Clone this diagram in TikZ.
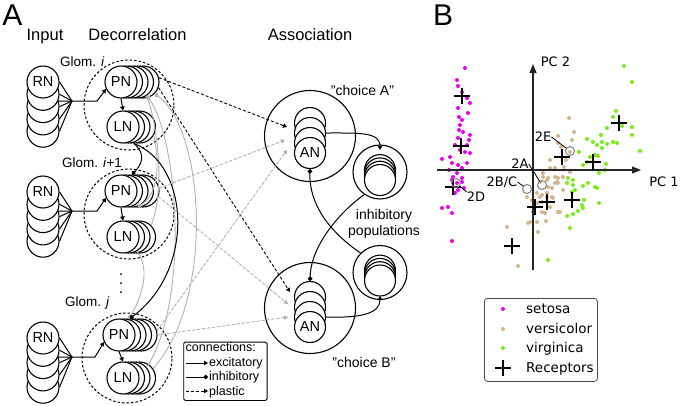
\documentclass[tikz,border=0pt]{standalone}
\usepackage{fontspec}
\setmainfont{Liberation Sans}
\newfontfamily\djv{DejaVu Sans}
\usetikzlibrary{arrows.meta}
\definecolor{lgray}{RGB}{178,178,178}
\definecolor{setc}{RGB}{235,0,235}
\definecolor{verc}{RGB}{212,180,140}
\definecolor{virc}{RGB}{120,238,20}
\definecolor{mgray}{RGB}{128,128,128}
\tikzset{
 cell/.style={circle,draw,fill=white,inner sep=0pt,minimum size=32pt,line width=1.1pt,font=\fontsize{14.5}{16}\selectfont},
 ancell/.style={cell,minimum size=31pt},
 incell/.style={cell,minimum size=31pt},
 glomc/.style={circle,draw,dash pattern=on 2.5pt off 2pt,line width=1pt,minimum size=90pt,inner sep=0pt},
 bigc/.style={circle,draw,fill=white,line width=1.1pt,minimum size=91pt,inner sep=0pt},
 popc/.style={circle,draw,fill=white,line width=1.1pt,minimum size=54pt,inner sep=0pt},
 exc/.style={line width=1pt,-{Triangle[length=4pt,width=4.5pt]}},
 inh/.style={line width=1pt,-{Circle[length=4.5pt]}},
 ginh/.style={line width=0.9pt,draw=lgray,-{Circle[length=4.5pt]}},
 pla/.style={line width=0.9pt,dash pattern=on 3pt off 2pt,-{Triangle[length=4pt,width=4.5pt]}},
 gpla/.style={pla,draw=lgray,fill=lgray},
 hdr/.style={font=\fontsize{16.5}{18}\selectfont,anchor=base,inner sep=0pt},
 panl/.style={font=\fontsize{30}{32}\selectfont,anchor=base,inner sep=0pt},
 glab/.style={font=\fontsize{13.5}{15}\selectfont,anchor=base west,inner sep=0pt},
 lab/.style={font=\fontsize{14}{15}\selectfont,anchor=base,inner sep=0pt},
 lgt/.style={font=\fontsize{12.5}{14}\selectfont,anchor=base west,inner sep=0pt},
 bt/.style={font=\djv\fontsize{13}{15}\selectfont,inner sep=0pt},
 blg/.style={font=\djv\fontsize{13.5}{15}\selectfont,anchor=base west,inner sep=0pt},
 rcp/.style={line width=1.2pt},
 fan/.style={line width=1pt},
}
\newcommand\mkstack[7][cell]{\foreach \k in {#5,...,1}{\node[#1] (#2-\k) at ({#3+(#6)*\k},{#4+(#7)*\k}) {};}}
\newcommand\sq{\char34}
\begin{document}
\begin{tikzpicture}[x=1pt,y=-1pt]
\useasboundingbox (0,0) rectangle (680,405);
% ---------- panel A headers
\node[panl] (lA) at (12.5,25) {A};
\node[hdr] (hIn) at (45,40) {Input};
\node[hdr] (hDe) at (137.5,40) {Decorrelation};
\node[hdr] (hAs) at (310,40) {Association};
% ---------- glomeruli
\node[glomc] (gA) at (129,105) {};
\node[glomc] (gB) at (129,214) {};
\node[glomc] (gC) at (127,358) {};
\node[glab] (tgA) at (60,66) {Glom. \textit{i}};
\node[glab] (tgB) at (62,167) {Glom. \textit{i}+1};
\node[glab] (tgC) at (65,306) {Glom. \textit{j}};
% RN stacks
\mkstack{rnA}{43}{82}{4}{0}{12.3}
\node[cell] (rnA-0) at (43,82) {RN};
\mkstack{rnB}{43}{192}{4}{0}{12.3}
\node[cell] (rnB-0) at (43,192) {RN};
\mkstack{rnC}{43}{338}{4}{0}{12.3}
\node[cell] (rnC-0) at (43,338) {RN};
% PN stacks
\mkstack{pnA}{121}{82}{4}{5.5}{0}
\node[cell] (pnA-0) at (121,82) {PN};
\mkstack{pnB}{121}{191}{4}{5.5}{0}
\node[cell] (pnB-0) at (121,191) {PN};
\mkstack{pnC}{119}{335}{4}{5.5}{0}
\node[cell] (pnC-0) at (119,335) {PN};
% LN stacks
\mkstack{lnA}{123}{127}{3}{5.5}{0}
\node[cell] (lnA-0) at (123,127) {LN};
\mkstack{lnB}{123}{237}{3}{5.5}{0}
\node[cell] (lnB-0) at (123,237) {LN};
\mkstack{lnC}{123}{378}{3}{5.5}{0}
\node[cell] (lnC-0) at (123,378) {LN};
% vertical dots
\fill (121,274) circle (1pt) (121,283) circle (1pt) (121,292) circle (1pt);
% ---------- association
\node[bigc] (chA) at (310,136) {};
\node[bigc] (chB) at (310,308) {};
\mkstack[ancell]{anA}{310}{153}{3}{0}{-10}
\node[ancell] (anA-0) at (310,153) {AN};
\mkstack[ancell]{anB}{310}{327}{3}{0}{-10}
\node[ancell] (anB-0) at (310,327) {AN};
\node[popc] (inhA) at (380,172) {};
\mkstack[incell]{ipA}{380}{180}{3}{0}{-3.3}
\node[incell] (ipA-0) at (380,180) {};
\node[popc] (inhB) at (380,272.5) {};
\mkstack[incell]{ipB}{380}{280.5}{3}{0}{-3.3}
\node[incell] (ipB-0) at (380,280.5) {};
\node[lab] (tcA) at (362.5,95) {\sq choice A\sq};
\node[lab] (tcB) at (364,367) {\sq choice B\sq};
\node[lab] (tip1) at (384,219) {inhibitory};
\node[lab] (tip2) at (384,235) {populations};
% ---------- RN fans
\coordinate (fA) at (72,101); \coordinate (hA) at (58,101); \coordinate (kA) at (97,101);
\coordinate (fB) at (72,211); \coordinate (hB) at (58,211); \coordinate (kB) at (97,211);
\coordinate (fC) at (72,357); \coordinate (hC) at (58,357); \coordinate (kC) at (95,357);
\foreach \k in {0,...,4}{
 \draw[fan] (rnA-\k.east) -- (fA);
 \draw[fan] (rnB-\k.east) -- (fB);
 \draw[fan] (rnC-\k.east) -- (fC);
}
\draw[exc] (hA) -- (kA) -- (pnA-0.205);
\draw[exc] (hB) -- (kB) -- (pnB-0.205);
\draw[exc] (hC) -- (kC) -- (pnC-0.205);
% PN -> LN
\draw[exc] (pnA-0.south) -- (lnA-0.north);
\draw[exc] (pnB-0.south) -- (lnB-0.north);
\draw[exc] (pnC-0.south) -- (lnC-0.north);
% gray lateral inhibition
\draw[ginh] (lnC-2.40) .. controls (190,300) and (178,140) .. (pnA-3.-55);
\draw[ginh] (lnC-3.35) .. controls (215,300) and (205,130) .. (pnA-4.-45);
\draw[ginh] (lnB-3.45) .. controls (165,190) and (158,130) .. (pnA-3.-55);
\draw[ginh] (lnA-3.-30) .. controls (160,165) and (158,195) .. (pnB-2.-70);
\draw[ginh] (lnB-1.-60) .. controls (152,270) and (140,300) .. (pnC-1.75);
% black lateral inhibition
\draw[inh] (lnA-2.south) .. controls (147,155) and (141,165) .. (pnB-2.north);
\draw[inh] (lnA-2.south) .. controls (190,165) and (195,270) .. (pnC-2.north);
% plastic connections
\coordinate (tA1) at (287,127); \coordinate (tA2) at (285,140); \coordinate (tA3) at (287,150);
\coordinate (tB1) at (290,292); \coordinate (tB2) at (288,304); \coordinate (tB3) at (288,317);
\draw[pla] (pnA-4.15) -- (tA1);
\draw[pla] (pnA-4.-20) -- (tB1);
\draw[gpla] (pnB-4.10) -- (tA2);
\draw[gpla] (pnB-4.-20) -- (tB2);
\draw[gpla] (pnC-4.15) -- (tA3);
\draw[gpla] (pnC-4.0) -- (tB3);
% association connections
\coordinate (iA) at (380,150); \coordinate (iB) at (380,296);
\draw[exc] (anA-2.east) .. controls (360,133) and (380,132) .. (iA);
\draw[exc] (anB-1.east) .. controls (360,318) and (380,314) .. (iB);
\draw[inh] (inhA.235) .. controls (340,212) and (311,245) .. (anB-3.north);
\draw[inh] (inhB.135) .. controls (330,232) and (309,205) .. (anA-0.south);
% legend A
\node[draw,rounded corners=1.5pt,line width=0.8pt,minimum width=83.4pt,minimum height=58.3pt,inner sep=0pt,anchor=north west] (legA) at (183.3,341.7) {};
\node[lgt] (lgc) at (185.5,351.7) {connections:};
\coordinate (la1) at (186,363); \coordinate (lb1) at (208,363);
\coordinate (la2) at (186,377); \coordinate (lb2) at (208,377);
\coordinate (la3) at (186,391); \coordinate (lb3) at (208,391);
\draw[exc] (la1) -- (lb1);
\draw[inh] (la2) -- (lb2);
\draw[pla] (la3) -- (lb3);
\node[lgt] (lg1) at (209,366.7) {excitatory};
\node[lgt] (lg2) at (209,380.5) {inhibitory};
\node[lgt] (lg3) at (209,395) {plastic};
% ---------- panel B
\node[panl] (lB) at (443,25) {B};
\foreach \x/\y in {465/68,457/80,458/86,462/92,467/98,470/103,458/108,468/113,459/117,462/120,460/125,459/130,463/132,470/135,469/140,458/138,455/145,467/145,460/150,465/152,470/153,442/159,450/157,452/163,458/165,467/163,457/173,453/177,462/178,452/180,457/183,462/182,455/193,448/207,442/208,452/213,452/241,462/168,449/170,464/188,458/190}
 {\fill[setc] (\x,\y) circle (2pt);}
\foreach \x/\y in {569/118,574/132,558/136,561/147,558/143,570/152,550/160,564/167,555/168,543/173,547/180,557/182,552/188,537/193,540/197,550/168,543/177,558/178,563/177,555/183,547/193,552/197,542/202,548/178,555/177,558/183,542/195,547/197,538/203,553/198,558/212,545/213,530/222,537/222,528/223,538/232,507/227,518/266,527/197,532/200,546/221,560/212,550/207,542/212,566/160,572/140,563/190,570/172,533/212,540/182,548/187}
 {\fill[verc] (\x,\y) circle (2pt);}
\foreach \x/\y in {624/66,632/82,616/111,613/117,607/128,632/127,622/126,632/135,601/135,587/139,593/142,602/142,607/144,597/145,602/148,613/142,617/143,640/151,579/152,590/157,595/155,598/156,587/162,583/165,599/173,605/170,568/178,573/180,567/183,573/185,588/183,583/186,597/188,572/192,584/200,599/203,582/205,575/190,595/187,567/216,573/214,578/211,583/208,570/228,548/260,606/164}
 {\fill[virc] (\x,\y) circle (2pt);}
% axes
\coordinate (ax0) at (437,170); \coordinate (ax1) at (641,170);
\coordinate (ay0) at (533,270); \coordinate (ay1) at (533,64);
\draw[line width=1.2pt,draw=black!85,-{Triangle[length=9pt,width=7pt]}] (ax0) -- (ax1);
\draw[line width=1.2pt,draw=black!85,-{Triangle[length=9pt,width=7pt]}] (ay0) -- (ay1);
\node[bt] (pc2) at (555.5,62) {PC 2};
\node[bt] (pc1) at (664,182) {PC 1};
% receptors
\foreach \x/\y in {462/96,461/146,453/187,562/157,593/162,619/123,535/207,547/202,572/200,512/246}
 {\draw[rcp] ({\x-8},\y) -- ({\x+8},\y) (\x,{\y-8}) -- (\x,{\y+8});}
% highlighted points
\coordinate (r2E) at (570,151); \coordinate (r2A) at (542,185);
\coordinate (r2B) at (527,189); \coordinate (r2D) at (456,183);
\foreach \c in {r2E,r2A,r2B,r2D}{\draw[mgray,line width=1pt] (\c) circle (4.5pt);}
\node[bt] (l2E) at (543,137) {2E};
\node[bt] (l2A) at (520,164) {2A};
\node[bt] (l2B) at (502,182) {2B/C};
\node[bt] (l2D) at (476,197) {2D};
\draw[line width=0.8pt,shorten >=4.5pt] (l2E.east) -- (r2E);
\draw[line width=0.8pt,shorten >=4.5pt] (l2A.east) -- (r2A);
\draw[line width=0.8pt,shorten >=4.5pt] (l2B.east) -- (r2B);
\draw[line width=0.8pt,shorten >=4.5pt] (l2D.north west) -- (r2D);
% legend B
\node[draw=black!70,rounded corners=3pt,line width=0.8pt,fill=white,minimum width=113pt,minimum height=83pt,inner sep=0pt,anchor=north west] (legB) at (484,298) {};
\fill[setc] (503,309) circle (2pt);
\fill[verc] (503,329) circle (2pt);
\fill[virc] (503,348) circle (2pt);
\draw[rcp] (495,368) -- (511,368) (503,360) -- (503,376);
\node[blg] (bl1) at (526,313) {setosa};
\node[blg] (bl2) at (526,333) {versicolor};
\node[blg] (bl3) at (526,352.7) {virginica};
\node[blg] (bl4) at (526,372.7) {Receptors};
\end{tikzpicture}
\end{document}
